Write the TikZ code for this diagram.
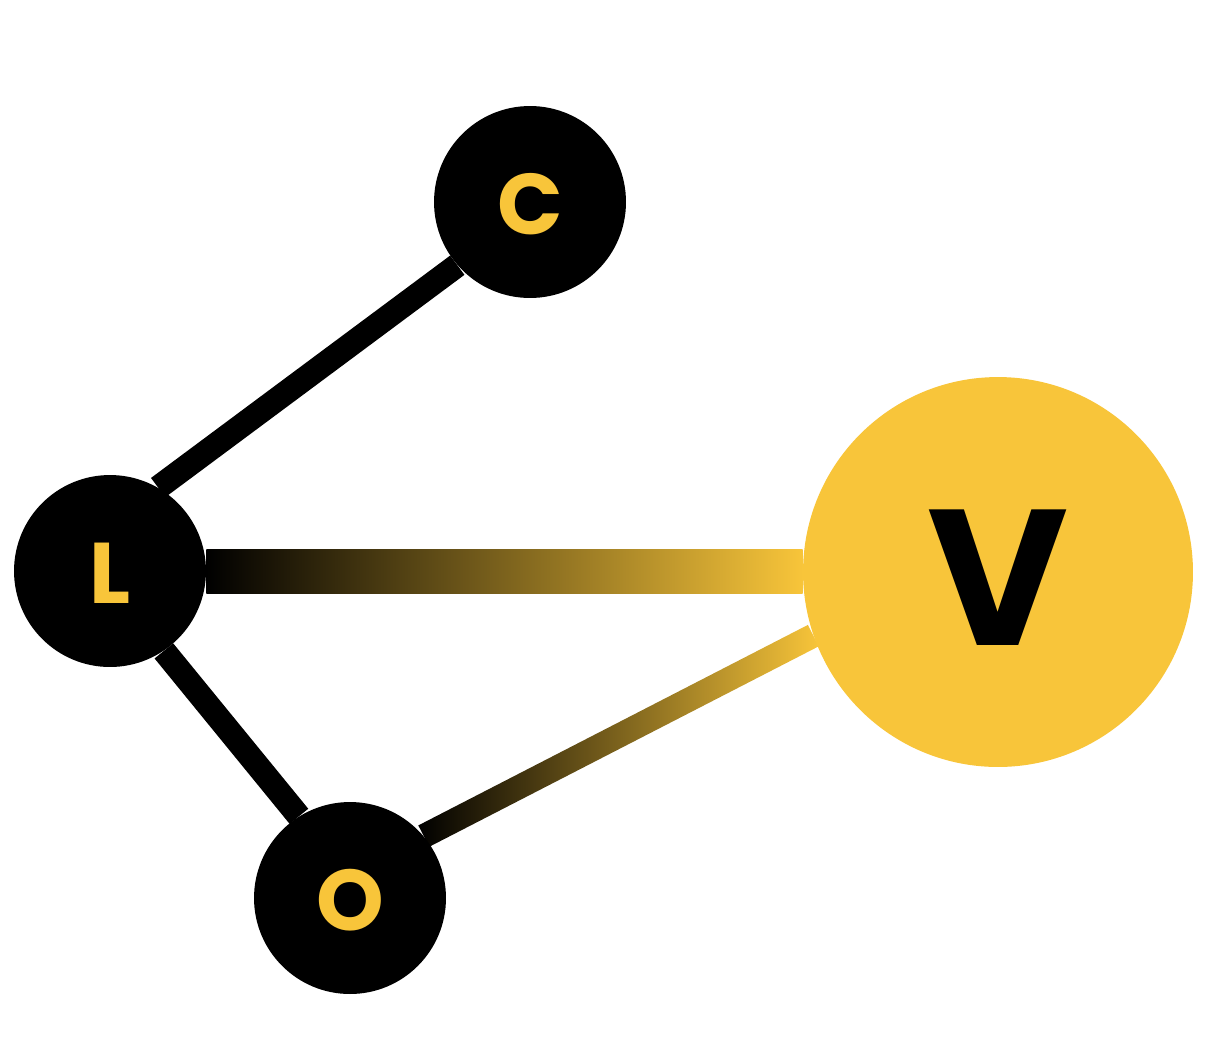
\documentclass[tikz,border=0pt]{standalone}
\usepackage{fontspec}
\setmainfont{Poppins}
\usetikzlibrary{
  	positioning,
  	calc,
  	backgrounds
  }
\definecolor{vyellow}{HTML}{F8C53A}

\begin{document}
\begin{tikzpicture}[x=.02cm, y=-.02cm,
  dot/.style={circle, fill=black, text=vyellow, inner sep=0pt, minimum size=3.84cm, text height=37.5pt, text depth=0pt, font=\fontsize{49}{49}\selectfont\bfseries},
  bigdot/.style={dot, fill=vyellow, text=black, minimum size=7.8cm, text height=84pt, font=\fontsize{110}{110}\selectfont\bfseries},
  link/.style={line width=.48cm},
  glow/.style={left color=black, right color=vyellow}]
	\useasboundingbox (0,0) rectangle (1222,1052);
	\node[dot] (C) at (530,202) {C};
	\node[dot] (L) at (110,571) {L};
	\node[dot] (O) at (350,898) {O};
	\node[bigdot] (V) at (998,572) {V};
%
	\begin{pgfonlayer}{background}
	\draw[link] (L.60) -- (C.221);
	\draw[link] (L.304) -- (O.122);
	\shade[glow] ($(L.east)+(0,-21.5)$) rectangle ($(V.west)+(0,21.5)$);
	\shade[glow] ($(O.40)!.24cm!90:(V.199)$) -- ($(V.199)!.24cm!-90:(O.40)$)
	  -- ($(V.199)!.24cm!90:(O.40)$) -- ($(O.40)!.24cm!-90:(V.199)$) -- cycle;
	\end{pgfonlayer}
\end{tikzpicture}
\end{document}
